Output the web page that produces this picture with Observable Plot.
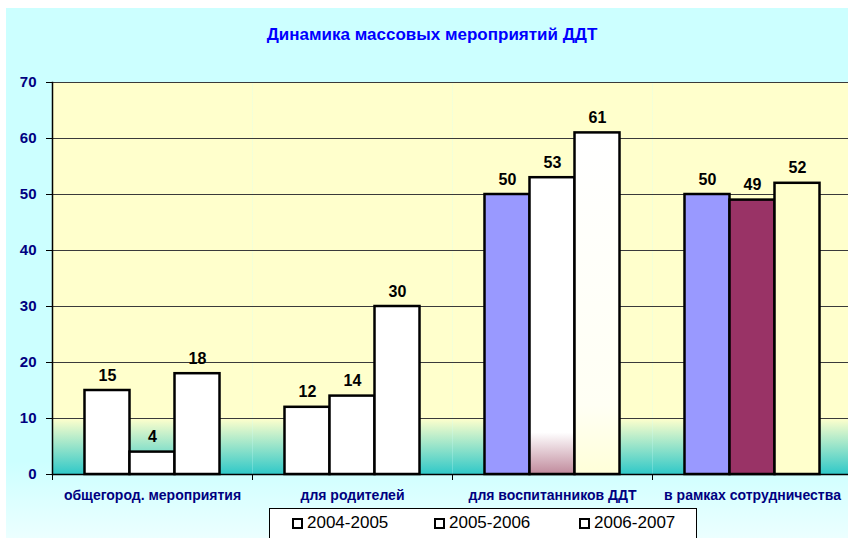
<!DOCTYPE html>
<html><head><meta charset="utf-8">
<script src="https://cdn.jsdelivr.net/npm/d3@7"></script>
<script src="https://cdn.jsdelivr.net/npm/@observablehq/plot@0.6"></script>
<style>
html,body{margin:0;padding:0;background:#fff;overflow:hidden;width:848px;height:538px;position:relative;}
#bg{position:absolute;left:6px;top:8px;width:846px;height:540px;background:linear-gradient(#CCFFFF 0%, #CCFFFF 84%, #F0FFFF 100%);}
#title{position:absolute;left:0;width:864px;top:25px;text-align:center;font:bold 17px "Liberation Sans",Arial,sans-serif;color:#0000FF;}
#chart{position:absolute;left:0;top:60px;width:852px;}
#chart svg{max-width:none !important;}
#legend{position:absolute;left:269px;top:508px;width:426px;height:40px;border:1px solid #000;background:#fff;font:17px "Liberation Sans",Arial,sans-serif;color:#000;}
.item{position:absolute;top:4px;display:flex;align-items:center;white-space:nowrap;}
.sw{width:7px;height:7px;border:2.5px solid #000;background:#fff;margin-right:4px;}
#defs{position:absolute;width:0;height:0;}
</style></head>
<body>
<svg id="defs" width="0" height="0">
  <defs>
    <linearGradient id="g-plot" x1="0" y1="0" x2="0" y2="1">
      <stop offset="0" stop-color="#FFFFCC"/>
      <stop offset="0.857" stop-color="#FFFFCC"/>
      <stop offset="1" stop-color="#2EC8C8"/>
    </linearGradient>
    <linearGradient id="g-rose" x1="0" y1="0" x2="0" y2="1">
      <stop offset="0" stop-color="#FFFFFF"/>
      <stop offset="0.86" stop-color="#FFFFFF"/>
      <stop offset="1" stop-color="#C08A9C"/>
    </linearGradient>
    <linearGradient id="g-cream" x1="0" y1="0" x2="0" y2="1">
      <stop offset="0" stop-color="#FFFFFF"/>
      <stop offset="0.8" stop-color="#FFFFF4"/>
      <stop offset="1" stop-color="#FFFFD8"/>
    </linearGradient>
  </defs>
</svg>
<div id="bg"></div>
<div id="title">Динамика массовых мероприятий ДДТ</div>
<div id="chart"></div>
<div id="legend"></div>
<script>
const categories = ["общегород. мероприятия", "для родителей", "для воспитанников ДДТ", "в рамках сотрудничества"];
const series = ["2004-2005", "2005-2006", "2006-2007"];
const v2004 = [15, 12, 50, 50];
const v2005 = [4, 14, 53, 49];
const v2006 = [18, 30, 61, 52];
const yTicks = [0, 10, 20, 30, 40, 50, 60, 70];

const seriesValues = [v2004, v2005, v2006];
const data = categories.flatMap((c, i) => series.map((s, j) => ({category: c, series: s, value: seriesValues[j][i], ci: i, si: j})));

function barFill(d) {
  if (d.ci === 2) return ["#9999FF", "url(#g-rose)", "url(#g-cream)"][d.si];
  if (d.ci === 3) return ["#9999FF", "#993366", "#FFFFCC"][d.si];
  return "#FFFFFF";
}

const W = 852, ML = 52, MR = 0;
const bandW = (W - ML - MR) / categories.length;

const plot = Plot.plot({
  width: W, height: 450,
  marginLeft: ML, marginRight: MR, marginTop: 22, marginBottom: 36,
  style: {background: "transparent", fontFamily: '"Liberation Sans", Arial, sans-serif', overflow: "visible", maxWidth: "none"},
  fx: {domain: categories, padding: 0, label: null},
  x: {domain: series, paddingInner: 0, paddingOuter: 0.722, round: false, axis: null},
  y: {domain: [0, 70], label: null},
  color: {type: "identity"},
  marks: [
    Plot.frame({fill: "url(#g-plot)", stroke: "none"}),
    Plot.ruleY(yTicks, {stroke: "#3a3a3a", strokeWidth: 1}),
    Plot.barY(data, {fx: "category", x: "series", y: "value", fill: barFill, stroke: "#000", strokeWidth: 2.5}),
    Plot.ruleY([0], {stroke: "#000", strokeWidth: 1.5}),
    Plot.text(data, {fx: "category", x: "series", y: "value", text: d => String(d.value), lineAnchor: "bottom", dy: -10, fontWeight: "bold", fontSize: 16, fill: "#000"}),
    Plot.frame({anchor: "left", facet: "super", stroke: "#000", strokeWidth: 1.5}),
    Plot.axisY({ticks: yTicks, tickSize: 6, tickPadding: 10, fontSize: 15, fontWeight: "bold", fill: "#000080", stroke: "#000", label: null}),
    Plot.axisFx({anchor: "bottom", tickSize: 0, tickPadding: 16, fontSize: 14, fontWeight: "bold", fill: "#000080", label: null}),
    Plot.axisFx({anchor: "bottom", tickSize: 6, tickFormat: () => "", dx: -bandW / 2, stroke: "#000", label: null})
  ]
});
document.getElementById("chart").appendChild(plot);

const legend = document.getElementById("legend");
const itemLeft = [22, 164, 309];
series.forEach((s, j) => {
  const it = document.createElement("div");
  it.className = "item";
  it.style.left = itemLeft[j] + "px";
  it.innerHTML = '<span class="sw"></span><span>' + s + '</span>';
  legend.appendChild(it);
});
</script>
</body></html>
